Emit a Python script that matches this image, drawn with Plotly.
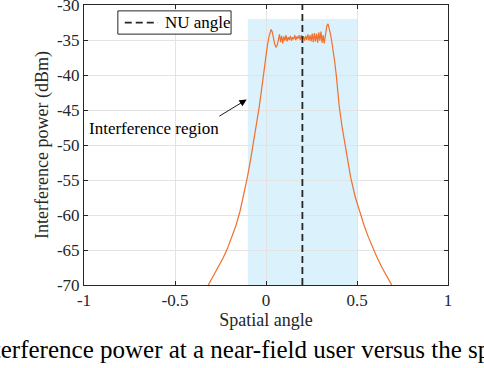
import plotly.graph_objects as go

# spatial angle and interference power
angle = [-0.34, -0.317, -0.29, -0.262, -0.235, -0.212, -0.189, -0.165, -0.143, -0.122,
         -0.103, -0.086, -0.07, -0.053, -0.038, -0.027, -0.015, -0.003, 0.007, 0.016,
         0.022, 0.028, 0.034, 0.041, 0.048, 0.055, 0.061,
         0.068, 0.074, 0.080, 0.086, 0.092, 0.098, 0.104, 0.110, 0.116, 0.122,
         0.128, 0.134, 0.140, 0.146, 0.152, 0.158, 0.164, 0.170, 0.176, 0.182,
         0.188, 0.194, 0.200, 0.206, 0.212, 0.218, 0.224, 0.230, 0.236, 0.242,
         0.248, 0.254, 0.260, 0.266, 0.272, 0.278, 0.284, 0.290, 0.296, 0.302,
         0.308, 0.314, 0.320, 0.327, 0.334, 0.341, 0.347, 0.353, 0.360, 0.368,
         0.377, 0.386, 0.395, 0.403, 0.418, 0.434, 0.449, 0.465, 0.49,
         0.516, 0.539, 0.563, 0.586, 0.609, 0.635, 0.663, 0.691, 0.714]
power = [-71.1, -70.0, -68.8, -67.5, -66.1, -64.8, -63.3, -61.5, -59.5, -57.2,
         -54.7, -52.3, -49.9, -47.2, -44.7, -42.6, -40.0, -37.6, -35.9, -34.6,
         -33.9, -33.5, -33.8, -34.8, -35.6, -36.0, -35.8,
         -35.0, -34.2, -35.3, -34.4, -35.5, -34.5, -35.1, -34.3, -35.2, -34.6,
         -35.0, -34.4, -35.1, -34.6, -34.9, -34.3, -35.0, -34.5, -34.8, -34.3,
         -35.0, -34.3, -34.9, -34.5, -35.1, -34.4, -35.0, -34.2, -35.1, -34.3,
         -35.2, -34.1, -35.3, -34.0, -35.2, -34.1, -35.4, -33.9, -35.1, -33.8,
         -35.4, -34.3, -35.5, -34.0, -33.0, -32.7, -33.2, -34.0, -35.0, -36.2,
         -38.0, -40.0, -42.4, -44.6, -47.4, -50.0, -52.3, -54.6, -57.4,
         -59.6, -61.5, -63.2, -64.7, -66.0, -67.4, -68.8, -70.0, -71.1]

nu_angle = 0.2
region_x = [-0.1, 0.5]
region_top = -32
region_bottom = -70

x_ticks = [-1, -0.5, 0, 0.5, 1]
x_labels = ["-1", "-0.5", "0", "0.5", "1"]
y_ticks = [-70, -65, -60, -55, -50, -45, -40, -35, -30]
y_labels = ["-70", "-65", "-60", "-55", "-50", "-45", "-40", "-35", "-30"]

font = "Liberation Serif"
axcol = "#262626"

fig = go.Figure()
fig.add_shape(type="rect", x0=region_x[0], x1=region_x[1], y0=region_bottom, y1=region_top,
              fillcolor="#DBF1FB", line_width=0, layer="below")

fig.add_trace(go.Scatter(x=angle, y=power, mode="lines", showlegend=False,
                         line=dict(color="#F0702E", width=1.2)))
fig.add_trace(go.Scatter(x=[nu_angle, nu_angle], y=[region_bottom, -30], mode="lines",
                         name="NU angle", showlegend=False,
                         line=dict(color=axcol, width=1.8, dash="7px,4px")))

# legend box drawn by hand so it stays as compact as the original
fig.add_shape(type="rect", xref="paper", yref="paper", x0=0.093, x1=0.404, y0=0.896, y1=0.979,
              line=dict(color=axcol, width=1), fillcolor="white", layer="above")
fig.add_shape(type="line", xref="paper", yref="paper", x0=0.112, x1=0.203, y0=0.937, y1=0.937,
              line=dict(color=axcol, width=1.8, dash="7px,4px"))
fig.add_annotation(xref="paper", yref="paper", x=0.218, y=0.939, xanchor="left", yanchor="middle",
                   text="NU angle", showarrow=False, font=dict(family=font, size=17, color="black"))

fig.add_annotation(x=-0.615, y=-47.6, text="Interference region", showarrow=False,
                   font=dict(family=font, size=17, color="black"))
fig.add_annotation(x=-0.106, y=-43.5, ax=-0.264, ay=-46.0, axref="x", ayref="y",
                   text="", showarrow=True, arrowhead=2, arrowsize=1.6, arrowwidth=0.9,
                   arrowcolor="black", standoff=0)

fig.add_annotation(xref="paper", yref="paper", x=-0.31, y=-0.232, xanchor="left", yanchor="middle",
                   text="Interference power at a near-field user versus the spatial angle.",
                   showarrow=False, font=dict(family=font, size=25, color="black"))

axis = dict(showline=True, linecolor=axcol, linewidth=1, mirror="allticks",
            ticks="inside", ticklen=4, tickcolor=axcol, showgrid=True,
            gridcolor="#E3E3E3", gridwidth=1, zeroline=False, automargin=False,
            ticklabeloverflow="allow",
            tickfont=dict(family=font, size=17, color=axcol))

fig.update_xaxes(axis, range=[-1, 1], tickvals=x_ticks, ticktext=x_labels,
                 title=dict(text="Spatial angle", font=dict(family=font, size=18, color=axcol), standoff=2))
fig.update_yaxes(axis, range=[-70, -30], tickvals=y_ticks, ticktext=y_labels,
                 title=dict(text="Interference power (dBm)", font=dict(family=font, size=18, color=axcol), standoff=3))

fig.update_layout(
    width=484, height=368,
    margin=dict(l=84, r=36, t=5, b=83),
    plot_bgcolor="white", paper_bgcolor="white",
    showlegend=False,
)

fig.write_html("out.html", config={"displayModeBar": False},
               post_script="document.body.style.margin='0';")
